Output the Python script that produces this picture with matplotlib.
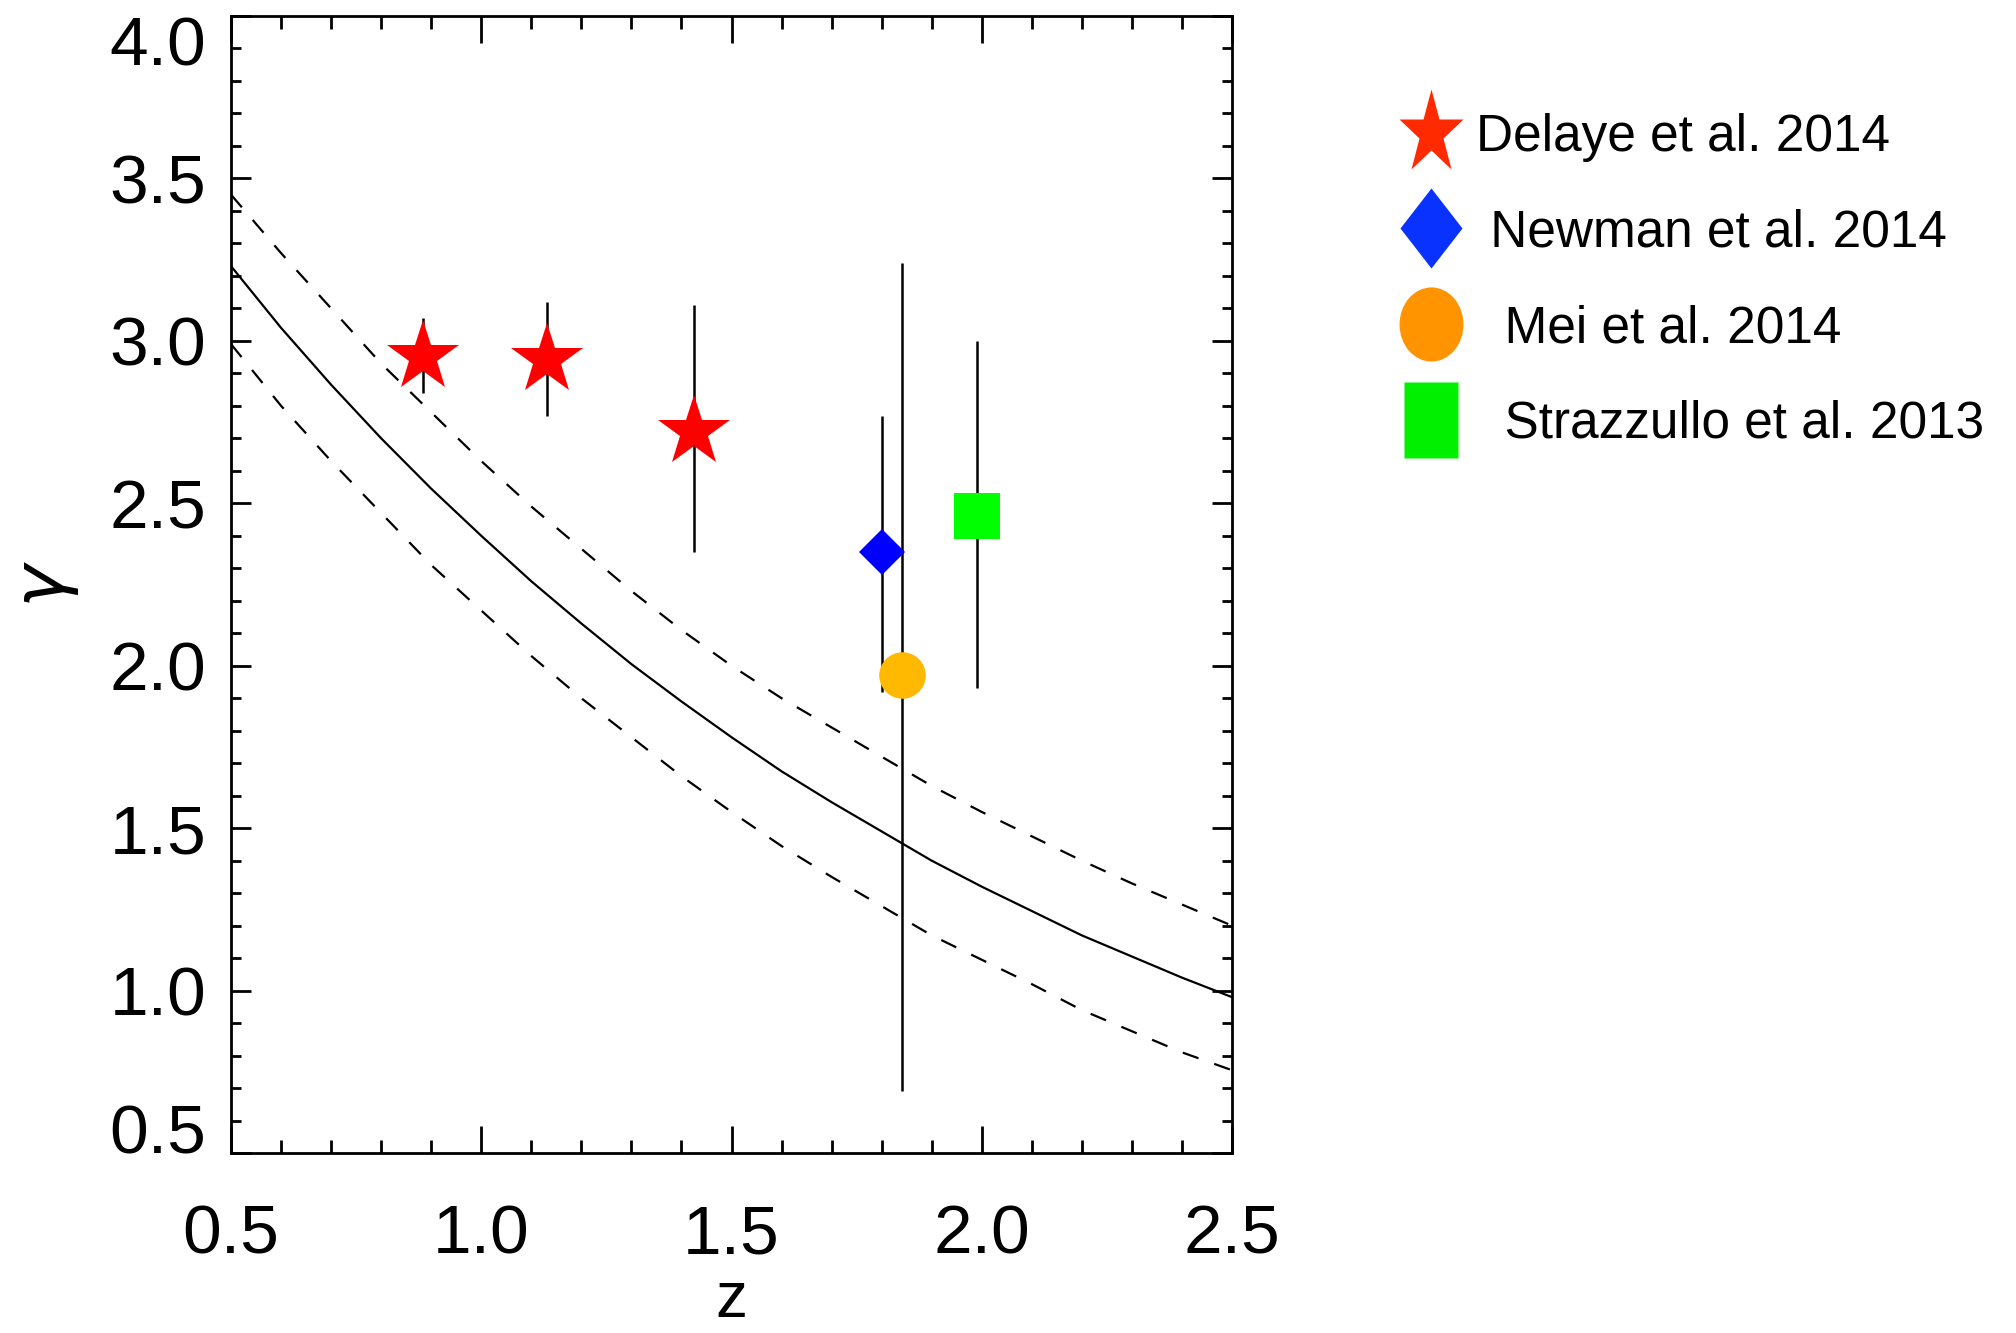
import matplotlib
matplotlib.use('Agg')
import matplotlib.pyplot as plt
from matplotlib.lines import Line2D
from matplotlib.markers import MarkerStyle
from matplotlib.transforms import Affine2D
from matplotlib.ticker import MultipleLocator, FormatStrFormatter

# model curves gamma(z)
z_model = [0.5, 0.6, 0.7, 0.8, 0.9, 1.0, 1.1, 1.2, 1.3, 1.4, 1.5,
           1.6, 1.7, 1.8, 1.9, 2.0, 2.1, 2.2, 2.3, 2.4, 2.5]
g_mid = [3.23, 3.04, 2.865, 2.70, 2.545, 2.40, 2.26, 2.13, 2.005, 1.89, 1.78,
         1.675, 1.58, 1.49, 1.40, 1.32, 1.245, 1.17, 1.105, 1.04, 0.98]
g_up = [3.45, 3.27, 3.10, 2.93, 2.78, 2.63, 2.49, 2.36, 2.23, 2.11, 2.00,
        1.90, 1.81, 1.72, 1.63, 1.55, 1.475, 1.40, 1.33, 1.265, 1.20]
g_low = [2.99, 2.80, 2.63, 2.47, 2.31, 2.17, 2.03, 1.90, 1.78, 1.66, 1.55,
         1.445, 1.35, 1.26, 1.17, 1.095, 1.02, 0.94, 0.875, 0.81, 0.755]

# measurements
delaye_z = [0.884, 1.131, 1.426]
delaye_g = [2.95, 2.94, 2.72]
delaye_lo = [0.11, 0.17, 0.37]
delaye_hi = [0.12, 0.18, 0.39]

newman_z, newman_g, newman_lo, newman_hi = [1.80], [2.35], [0.43], [0.42]
mei_z, mei_g, mei_lo, mei_hi = [1.84], [1.97], [1.28], [1.27]
straz_z, straz_g, straz_lo, straz_hi = [1.99], [2.46], [0.53], [0.54]

x_ticks = [0.5, 1.0, 1.5, 2.0, 2.5]
y_ticks = [0.5, 1.0, 1.5, 2.0, 2.5, 3.0, 3.5, 4.0]

legend_labels = ['Delaye et al. 2014', ' Newman et al. 2014',
                 '  Mei et al. 2014', '  Strazzullo et al. 2013']

plt.rcParams['font.family'] = ['Liberation Sans', 'DejaVu Sans']

fig = plt.figure(figsize=(20.16, 13.33), dpi=100)
ax = fig.add_axes([0.1146, 0.135, 0.4965, 0.853])

ax.plot(z_model, g_mid, color='k', lw=1.6, zorder=1)
ax.plot(z_model, g_up, color='k', lw=1.6, ls=(0, (7.5, 7.5)), zorder=1)
ax.plot(z_model, g_low, color='k', lw=1.6, ls=(0, (7.5, 7.5)), zorder=1)

ekw = dict(ecolor='k', elinewidth=1.8, capsize=3.6, capthick=1.8, mew=0, zorder=3)
ax.errorbar(delaye_z, delaye_g, yerr=[delaye_lo, delaye_hi], fmt='*',
            color='#ff0000', ms=54, **ekw)
ax.errorbar(newman_z, newman_g, yerr=[newman_lo, newman_hi], fmt='D',
            color='#0000ff', ms=23, **ekw)
ax.errorbar(mei_z, mei_g, yerr=[mei_lo, mei_hi], fmt='o',
            color='#ffb900', ms=33.5, **ekw)
ax.errorbar(straz_z, straz_g, yerr=[straz_lo, straz_hi], fmt='s',
            color='#00ff00', ms=33, **ekw)

ax.set_xlim(0.5, 2.5)
ax.set_ylim(0.5, 4.0)
ax.set_xticks(x_ticks)
ax.set_yticks(y_ticks)
ax.xaxis.set_minor_locator(MultipleLocator(0.1))
ax.yaxis.set_minor_locator(MultipleLocator(0.1))
ax.xaxis.set_major_formatter(FormatStrFormatter('%.1f'))
ax.yaxis.set_major_formatter(FormatStrFormatter('%.1f'))
ax.tick_params(which='both', direction='in', top=True, right=True, width=2)
ax.tick_params(axis='x', which='major', length=19.4, pad=36, labelsize=50)
ax.tick_params(axis='x', which='minor', length=9.4)
ax.tick_params(axis='y', which='major', length=14.4, pad=18, labelsize=50)
ax.tick_params(axis='y', which='minor', length=7.2)
for s in ax.spines.values():
    s.set_linewidth(2)

ylabs = ax.get_yticklabels()
ylabs[0].set_va('baseline')
ylabs[-1].set_va('top')

ax.set_xlabel('z', fontsize=46, labelpad=2)
ax.set_ylabel(r'$\gamma$', fontsize=52, labelpad=20)

handles = [
    Line2D([], [], ls='none', marker=MarkerStyle('*', transform=Affine2D().scale(1, 1.3)),
           ms=49, mfc='#ff2a00', mec='none'),
    Line2D([], [], ls='none', marker=MarkerStyle('D', transform=Affine2D().scale(1, 1.27)),
           ms=32, mfc='#0a32ff', mec='none'),
    Line2D([], [], ls='none', marker=MarkerStyle('o', transform=Affine2D().scale(1, 1.16)),
           ms=46, mfc='#ff9300', mec='none'),
    Line2D([], [], ls='none', marker=MarkerStyle('s', transform=Affine2D().scale(1, 1.39)),
           ms=39, mfc='#00f000', mec='none'),
]
fig.legend(handles, legend_labels, loc='upper left', bbox_to_anchor=(0.6907, 0.9155),
           frameon=False, prop={'family': 'Liberation Sans', 'size': 37},
           handlelength=1.5, handletextpad=0.12, labelspacing=0.91, borderpad=0,
           borderaxespad=0, numpoints=1)

plt.savefig('out.png')
